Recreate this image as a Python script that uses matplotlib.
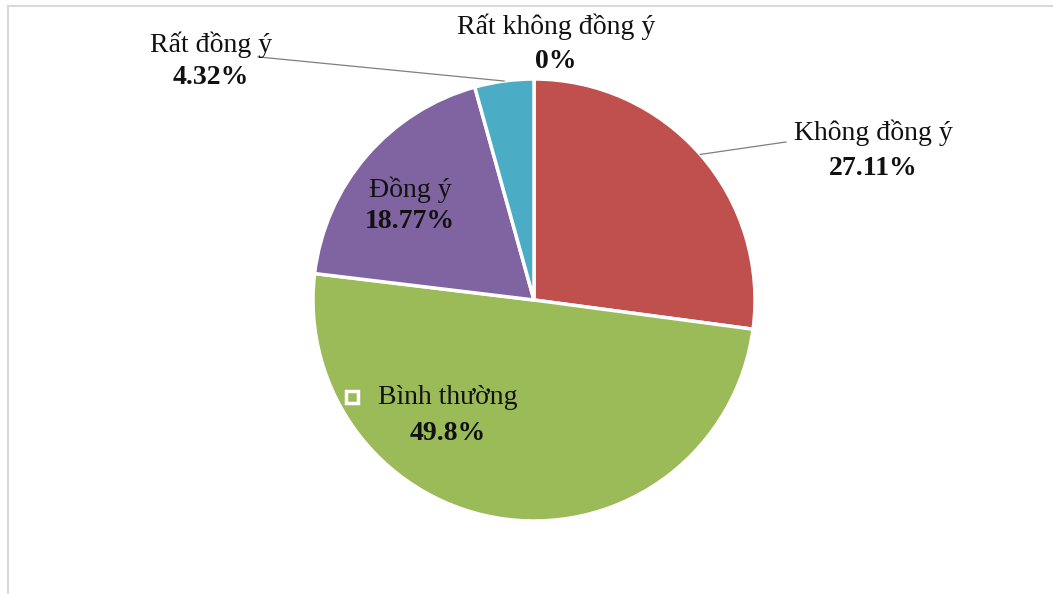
import numpy as np
import matplotlib.pyplot as plt
from matplotlib.lines import Line2D

# Dữ liệu
labels = ['Rất không đồng ý', 'Không đồng ý', 'Bình thường', 'Đồng ý', 'Rất đồng ý']
values = [0, 27.11, 49.8, 18.77, 4.32]
pct_text = ['0%', '27.11%', '49.8%', '18.77%', '4.32%']
colors = ['#4F81BD', '#C0504D', '#9BBB59', '#8064A2', '#4BACC6']

plt.rcParams['font.family'] = ['Liberation Serif', 'DejaVu Serif']

W, H = 1053, 594
fig = plt.figure(figsize=(W / 100, H / 100), dpi=100)

# khung mờ ở trên và bên trái
fig.add_artist(Line2D([8 / W, 1], [1 - 6 / H, 1 - 6 / H], color='#d9d9d9', lw=1.5))
fig.add_artist(Line2D([8 / W, 8 / W], [0, 1 - 6 / H], color='#d9d9d9', lw=1.5))

# tâm (534, 300), bán kính 221 px
cx, cy, r = 534, 300, 221
ax = fig.add_axes([(cx - r) / W, (H - cy - r) / H, 2 * r / W, 2 * r / H])

wedges, _ = ax.pie(values, colors=colors, startangle=90, counterclock=False,
                   radius=1, wedgeprops=dict(edgecolor='white', linewidth=2.5))
ax.set_xlim(-1, 1)
ax.set_ylim(-1, 1)
ax.set_aspect('equal')
ax.axis('off')

# vị trí nhãn (đơn vị bán kính)
label_pos = {
    0: (0.10, 1.235, 1.081),
    1: (1.534, 0.756, 0.597),
    2: (-0.389, -0.443, -0.606),
    3: (-0.561, 0.498, 0.353),
    4: (-1.462, 1.154, 1.005),
}
fs = 20
for i, (x, y1, y2) in label_pos.items():
    ax.text(x, y1, labels[i], ha='center', va='center', fontsize=fs, color='#111111',
            clip_on=False)
    ax.text(x, y2, pct_text[i], ha='center', va='center', fontsize=fs,
            fontweight='bold', color='#111111', clip_on=False)

# ô chú thích nhỏ trước "Bình thường"
ax.plot([-0.824], [-0.439], marker='s', ms=9, mfc='#9BBB59', mec='white', mew=2.5)

# đường dẫn nhãn
cum = np.cumsum([0] + values)
for i, (tx, ty) in [(1, (1.14, 0.715)), (4, (-1.249, 1.100))]:
    mid = np.deg2rad(90 - (cum[i] + values[i] / 2) * 3.6)
    ax.plot([np.cos(mid), tx], [np.sin(mid), ty], color='#7f7f7f', lw=0.9,
            clip_on=False)

plt.savefig('out.png', dpi=100)
